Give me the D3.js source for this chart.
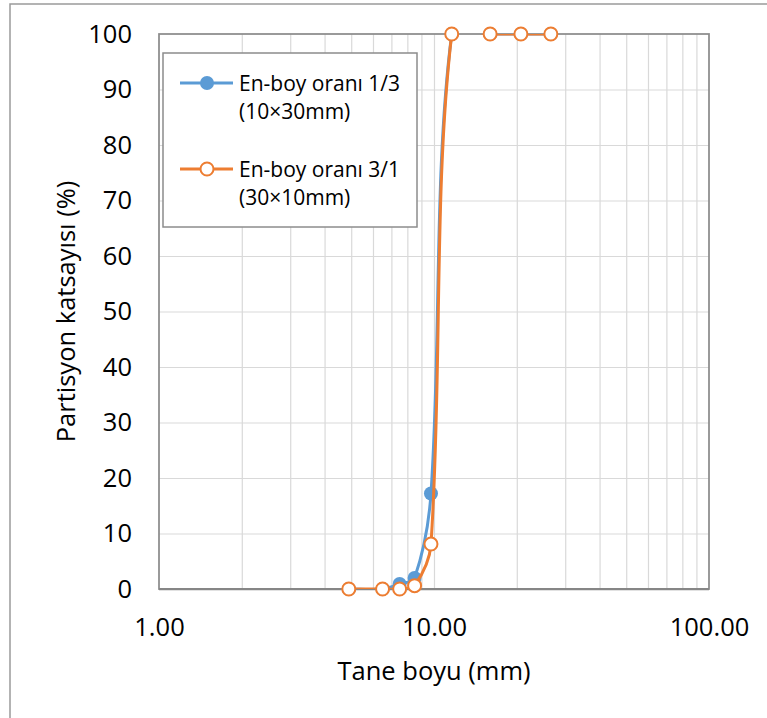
<!DOCTYPE html>
<html>
<head>
<meta charset="utf-8">
<script src="https://cdn.jsdelivr.net/npm/d3@7.9.0/dist/d3.min.js"></script>
<style>
  body { margin: 0; background: #fff; }
  svg { display: block; font-family: "Open Sans", sans-serif; }
</style>
</head>
<body>
<div id="chart"></div>
<script>
// grain size (mm) and partition coefficient (%)
const sizes = [4.9, 6.5, 7.5, 8.5, 9.75, 11.6, 16, 20.7, 26.6];
const ratio13 = [0, 0, 0.9, 2.0, 17.2, 100, 100, 100, 100];
const ratio31 = [0, 0, 0, 0.6, 8.1, 100, 100, 100, 100];

const xTicks = [1, 10, 100];
const yTicks = [0, 10, 20, 30, 40, 50, 60, 70, 80, 90, 100];
const xGrid = [2, 3, 4, 5, 6, 7, 8, 9, 10, 20, 30, 40, 50, 60, 70, 80, 90];
const yGrid = [10, 20, 30, 40, 50, 60, 70, 80, 90];

const seriesNames = [
  ['En-boy oranı 1/3', '(10×30mm)'],
  ['En-boy oranı 3/1', '(30×10mm)']
];

const width = 767, height = 718;
const plot = { left: 159, right: 709, top: 34, bottom: 589 };
const blue = '#5b9bd5', orange = '#ed7d31';

const svg = d3.select('#chart').append('svg')
  .attr('width', width)
  .attr('height', height);

// outer chart border
svg.append('rect')
  .attr('x', 10).attr('y', 4)
  .attr('width', 800).attr('height', 800)
  .attr('fill', '#fff')
  .attr('stroke', '#9a9a9a')
  .attr('stroke-width', 1.5);

const x = d3.scaleLog().domain([1, 100]).range([plot.left, plot.right]);
const y = d3.scaleLinear().domain([0, 100]).range([plot.bottom, plot.top]);
const plotH = plot.bottom - plot.top;
const plotW = plot.right - plot.left;

// gridlines
svg.append('g')
  .attr('transform', `translate(0,${plot.bottom})`)
  .call(d3.axisBottom(x).tickValues(xGrid).tickSize(-plotH).tickFormat(''))
  .call(g => g.select('.domain').remove())
  .call(g => g.selectAll('line').attr('stroke', '#d9d9d9').attr('stroke-width', 1.2));

svg.append('g')
  .attr('transform', `translate(${plot.left},0)`)
  .call(d3.axisLeft(y).tickValues(yGrid).tickSize(-plotW).tickFormat(''))
  .call(g => g.select('.domain').remove())
  .call(g => g.selectAll('line').attr('stroke', '#d9d9d9').attr('stroke-width', 1.2));

// plot frame
svg.append('rect')
  .attr('x', plot.left).attr('y', plot.top)
  .attr('width', plotW).attr('height', plotH)
  .attr('fill', 'none')
  .attr('stroke', '#8c8c8c')
  .attr('stroke-width', 1.75);

svg.append('line')
  .attr('x1', plot.left).attr('x2', plot.right)
  .attr('y1', y(0)).attr('y2', y(0))
  .attr('stroke', '#868686')
  .attr('stroke-width', 2.25);

// tick labels
svg.append('g')
  .attr('transform', `translate(${plot.left},0)`)
  .call(d3.axisLeft(y).tickValues(yTicks).tickSize(0).tickPadding(27))
  .call(g => g.select('.domain').remove())
  .call(g => g.selectAll('text').attr('font-size', '25.5px').attr('fill', '#000')
    .attr('font-family', '"Open Sans", sans-serif'));

svg.append('g')
  .attr('transform', `translate(0,${plot.bottom})`)
  .call(d3.axisBottom(x).tickValues(xTicks).tickSize(0).tickPadding(29)
    .tickFormat(d3.format('.2f')))
  .call(g => g.select('.domain').remove())
  .call(g => g.selectAll('text').attr('font-size', '25.5px').attr('fill', '#000')
    .attr('font-family', '"Open Sans", sans-serif'));

// axis titles
svg.append('text')
  .attr('x', (plot.left + plot.right) / 2)
  .attr('y', 680)
  .attr('text-anchor', 'middle')
  .attr('font-size', '25.5px')
  .text('Tane boyu (mm)');

svg.append('text')
  .attr('transform', `translate(75,${(plot.top + plot.bottom) / 2}) rotate(-90)`)
  .attr('text-anchor', 'middle')
  .attr('font-size', '25.5px')
  .text('Partisyon katsayısı (%)');

// series
svg.append('clipPath').attr('id', 'clip')
  .append('rect')
  .attr('x', plot.left).attr('y', plot.top)
  .attr('width', plotW).attr('height', plotH);

// Excel-like smoothing: tangents weighted by neighbouring segment lengths
function smoothPath(pts) {
  const p = d3.path();
  const n = pts.length;
  const dist = (a, b) => Math.hypot(b[0] - a[0], b[1] - a[1]);
  const d = [];
  for (let i = 0; i < n - 1; i++) d.push(dist(pts[i], pts[i + 1]));
  const tan = pts.map((pt, i) => {
    const a = pts[Math.max(i - 1, 0)], b = pts[Math.min(i + 1, n - 1)];
    return [b[0] - a[0], b[1] - a[1]];
  });
  const sideLen = i => (i < 0 || i >= n - 1) ? 0 : d[i];
  p.moveTo(pts[0][0], pts[0][1]);
  for (let i = 0; i < n - 1; i++) {
    const f1 = d[i] / (3 * (sideLen(i - 1) + d[i]) || 1);
    const f2 = d[i] / (3 * (d[i] + sideLen(i + 1)) || 1);
    p.bezierCurveTo(
      pts[i][0] + tan[i][0] * f1, pts[i][1] + tan[i][1] * f1,
      pts[i + 1][0] - tan[i + 1][0] * f2, pts[i + 1][1] - tan[i + 1][1] * f2,
      pts[i + 1][0], pts[i + 1][1]);
  }
  return p.toString();
}

const series = [
  { values: ratio13, color: blue, filled: true },
  { values: ratio31, color: orange, filled: false }
];

series.forEach(s => {
  const pts = sizes.map((v, i) => [v, s.values[i]]);
  svg.append('path')
    .attr('clip-path', 'url(#clip)')
    .attr('fill', 'none')
    .attr('stroke', s.color)
    .attr('stroke-width', 3)
    .attr('d', smoothPath(pts.map(d => [x(d[0]), y(d[1])])));
  svg.append('g').selectAll('circle')
    .data(pts)
    .join('circle')
    .attr('cx', d => x(d[0]))
    .attr('cy', d => y(d[1]))
    .attr('r', s.filled ? 7 : 6.5)
    .attr('fill', s.filled ? s.color : '#fff')
    .attr('stroke', s.color)
    .attr('stroke-width', s.filled ? 0 : 2);
});

// legend
const legend = svg.append('g');
legend.append('rect')
  .attr('x', 163).attr('y', 53)
  .attr('width', 254).attr('height', 174)
  .attr('fill', '#fff')
  .attr('stroke', '#8c8c8c')
  .attr('stroke-width', 1.5);

const legendY = [83, 169];
series.forEach((s, i) => {
  const ly = legendY[i];
  legend.append('line')
    .attr('x1', 180).attr('x2', 233)
    .attr('y1', ly).attr('y2', ly)
    .attr('stroke', s.color)
    .attr('stroke-width', 3);
  legend.append('circle')
    .attr('cx', 207).attr('cy', ly)
    .attr('r', s.filled ? 7 : 6.5)
    .attr('fill', s.filled ? s.color : '#fff')
    .attr('stroke', s.color)
    .attr('stroke-width', s.filled ? 0 : 2);
  seriesNames[i].forEach((t, j) => {
    legend.append('text')
      .attr('x', 239)
      .attr('y', ly + 8 + j * 27.5)
      .attr('font-size', '21px')
      .text(t);
  });
});
</script>
</body>
</html>
